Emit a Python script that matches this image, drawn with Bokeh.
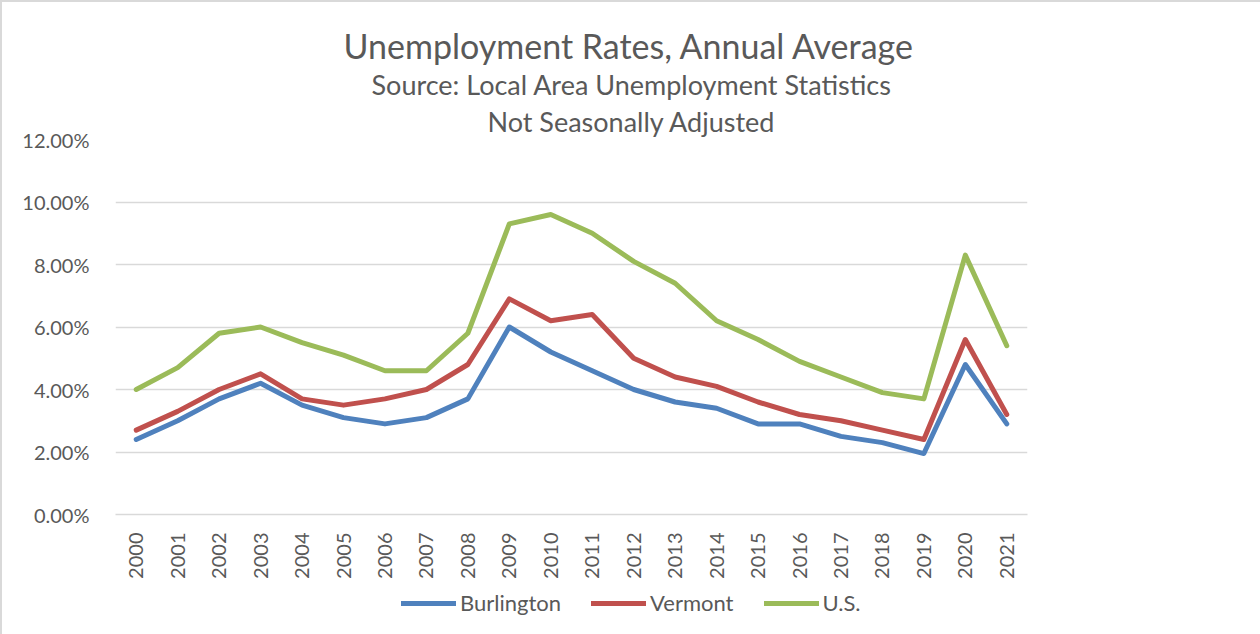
from bokeh.plotting import figure
from bokeh.layouts import column
from bokeh.models import Title, Legend, LegendItem, NumeralTickFormatter, FixedTicker, Range1d
from bokeh.embed import file_html
from bokeh.resources import INLINE
import math

years = [str(y) for y in range(2000, 2022)]
burlington = [2.4, 3.0, 3.7, 4.2, 3.5, 3.1, 2.9, 3.1, 3.7, 6.0, 5.2, 4.6, 4.0, 3.6, 3.4, 2.9, 2.9, 2.5, 2.3, 1.95, 4.8, 2.9]
vermont = [2.7, 3.3, 4.0, 4.5, 3.7, 3.5, 3.7, 4.0, 4.8, 6.9, 6.2, 6.4, 5.0, 4.4, 4.1, 3.6, 3.2, 3.0, 2.7, 2.4, 5.6, 3.2]
us = [4.0, 4.7, 5.8, 6.0, 5.5, 5.1, 4.6, 4.6, 5.8, 9.3, 9.6, 9.0, 8.1, 7.4, 6.2, 5.6, 4.9, 4.4, 3.9, 3.7, 8.3, 5.4]
y_ticks = [0.0, 0.02, 0.04, 0.06, 0.08, 0.10, 0.12]

series_names = ["Burlington", "Vermont", "U.S."]
series_values = [burlington, vermont, us]
colors = ["#4F81BD", "#C0504D", "#9BBB59"]

FONT = "Lato"
TXT = "#595959"

p = figure(x_range=years, y_range=Range1d(0, 0.12),
           frame_width=912, frame_height=375,
           output_backend="svg", toolbar_location=None,
           min_border_left=113, min_border_right=233, min_border_top=137, min_border_bottom=60)

for name, vals, c in zip(series_names, series_values, colors):
    p.line(years, [v / 100 for v in vals], line_color=c, line_width=5, line_join="round", line_cap="round")

p.yaxis.ticker = FixedTicker(ticks=y_ticks)
p.yaxis.formatter = NumeralTickFormatter(format="0.00%")
p.yaxis.axis_line_color = None
p.yaxis.major_tick_line_color = None
p.yaxis.minor_tick_line_color = None
p.yaxis.major_label_text_font = FONT
p.yaxis.major_label_text_font_size = "20px"
p.yaxis.major_label_text_color = TXT
p.yaxis.major_label_standoff = 20

p.xaxis.axis_line_color = "#d9d9d9"
p.xaxis.axis_line_width = 1.5
p.xaxis.major_tick_line_color = None
p.xaxis.minor_tick_line_color = None
p.xaxis.major_label_orientation = math.pi / 2
p.xaxis.major_label_text_font = FONT
p.xaxis.major_label_text_font_size = "20px"
p.xaxis.major_label_text_color = TXT
p.xaxis.major_label_standoff = 12

p.xgrid.grid_line_color = None
p.ygrid.grid_line_color = "#d9d9d9"
p.ygrid.grid_line_width = 1.5
p.outline_line_color = None

p.add_layout(Title(text="Not Seasonally Adjusted", align="left", offset=372,
                   text_font=FONT, text_font_size="27px", text_color=TXT,
                   text_font_style="normal", standoff=4), "above")
p.add_layout(Title(text="Source: Local Area Unemployment Statistics", align="left", offset=256,
                   text_font=FONT, text_font_size="27px", text_color=TXT,
                   text_font_style="normal", standoff=0), "above")
p.add_layout(Title(text="Unemployment Rates, Annual Average", align="left", offset=228,
                   text_font=FONT, text_font_size="34px", text_color=TXT,
                   text_font_style="normal", standoff=0), "above")

# legend strip below the chart (series drawn out of its visible range, only the legend shows)
lg = figure(width=1258, height=60, x_range=years, y_range=Range1d(-2, -1),
            output_backend="svg", toolbar_location=None, min_border=0)
lg.axis.visible = False
lg.grid.visible = False
lg.outline_line_color = None
items = []
for name, vals, c in zip(series_names, series_values, colors):
    r = lg.line(years, vals, line_color=c, line_width=5, line_cap="round")
    items.append(LegendItem(label=name, renderers=[r]))
legend = Legend(items=items, orientation="horizontal", location=(286, 25),
                label_text_font=FONT, label_text_font_size="22px", label_text_color=TXT,
                glyph_width=55, glyph_height=20, label_standoff=4, spacing=30,
                border_line_color=None, background_fill_alpha=0, margin=0, padding=0,
                label_height=20)
lg.add_layout(legend, "center")

layout = column(p, lg, spacing=0,
                styles={"border-top": "2px solid #d9d9d9", "border-left": "2px solid #d9d9d9"})

open("out.html", "w").write(file_html(layout, INLINE))
